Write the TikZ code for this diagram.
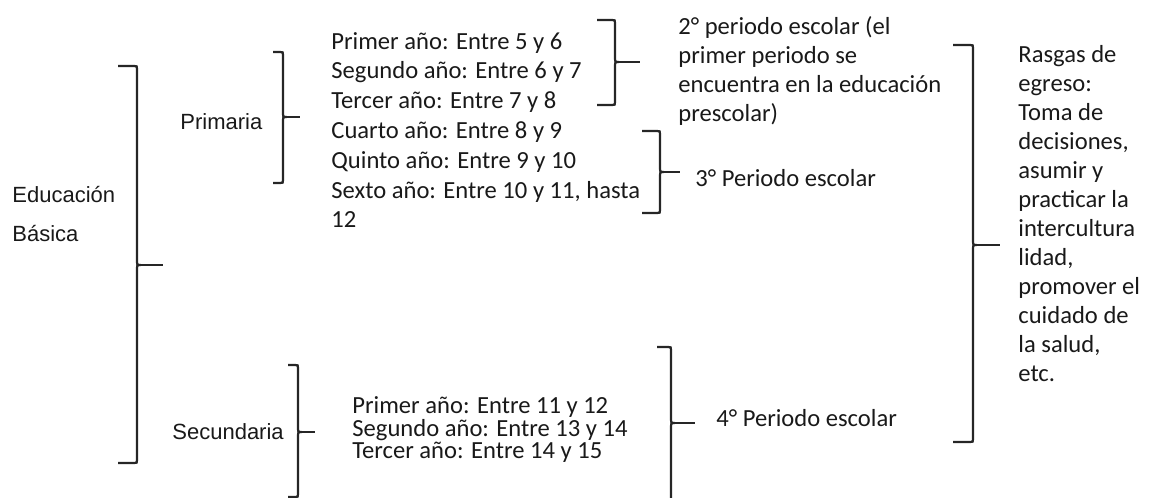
\documentclass[tikz,border=0pt]{standalone}
\usepackage{fontspec}
\setmainfont{Carlito}
\newfontfamily\arialfont{Liberation Sans}

\begin{document}
\begin{tikzpicture}[x=0.5pt, y=-0.5pt,
  every node/.style={inner sep=0pt, anchor=west, text=black!90},
  nivel/.style={align=left, font=\arialfont\fontsize{11}{19.5}\selectfont},
  lista/.style={align=left, font={\fontsize{12.3}{14.9}\selectfont\lineskiplimit-20pt\relax}},
  listacorta/.style={align=left, font={\fontsize{12.3}{11.25}\selectfont\lineskiplimit-20pt\relax}},
  periodo/.style={align=left, font={\fontsize{12.3}{14.5}\selectfont\lineskiplimit-20pt\relax}},
  llave/.style={line width=1.1pt, draw=black!85}]
\useasboundingbox (0,0) rectangle (1162,498);
\clip (0,0) rectangle (1162,498);

% textos
\node[nivel] (educ) at (12,214) {Educación\\Básica};
\node[nivel] (prim) at (180,122) {Primaria};
\node[nivel] (secu) at (172,432) {Secundaria};
\node[lista] (anosprim) at (331,130) {Primer año: Entre 5 y 6\\Segundo año: Entre 6 y 7\\Tercer año: Entre 7 y 8\\Cuarto año: Entre 8 y 9\\Quinto año: Entre 9 y 10\\Sexto año: Entre 10 y 11, hasta\\12};
\node[listacorta] (anossec) at (352,430) {Primer año: Entre 11 y 12\\Segundo año: Entre 13 y 14\\Tercer año: Entre 14 y 15};
\node[periodo] (per2) at (678,71) {2° periodo escolar (el\\primer periodo se\\encuentra en la educación\\prescolar)};
\node[periodo] (per3) at (695,178) {3° Periodo escolar};
\node[periodo] (per4) at (716,418) {4° Periodo escolar};
\node[periodo] (rasgos) at (1018,214) {Rasgas de\\egreso:\\Toma de\\decisiones,\\asumir y\\practicar la\\intercultura\\lidad,\\promover el\\cuidado de\\la salud,\\etc.};

% llaves: izquierda / vertical / arriba / punta / abajo / fin de punta
\foreach \xl/\xv/\yt/\yc/\yb/\xe/\nm in {118/137/66/265/463/163/educ,
    273/283/52/117/183/300/prim, 288/298/365/432/497/315/secu,
    597/615/20/62/105/640/per2, 642/660/131/172/213/680/per3,
    657/671/347/423/520/695/per4, 953/973/45/245/442/1000/rasgos}
{
  \coordinate (c\nm) at (\xv+3,\yc);
  \coordinate (t\nm) at (\xe,\yc);
  \draw[llave] (\xl,\yt) -- (\xv-3,\yt) .. controls (\xv,\yt) .. (\xv,\yt+3)
    -- (\xv,\yc-3) .. controls (\xv,\yc) .. (c\nm)
    .. controls (\xv,\yc) .. (\xv,\yc+3) -- (\xv,\yb-3)
    .. controls (\xv,\yb) .. (\xv-3,\yb) -- (\xl,\yb);
  \draw[llave] (c\nm) -- (t\nm);
}
\end{tikzpicture}
\end{document}
